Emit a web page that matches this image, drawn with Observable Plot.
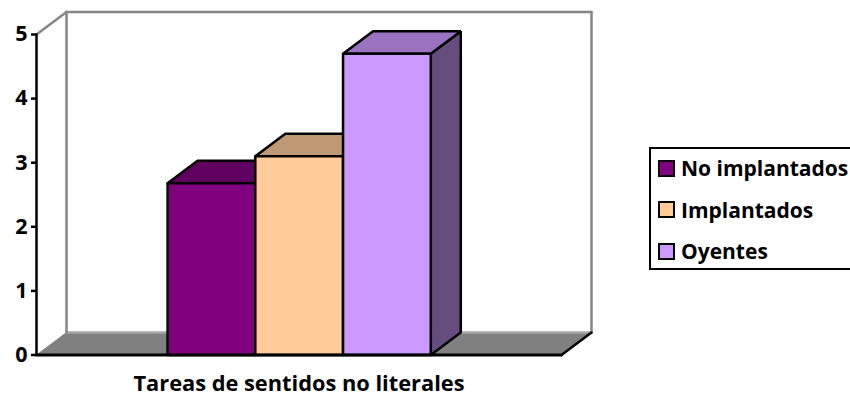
<!DOCTYPE html>
<html>
<head>
<meta charset="utf-8">
<script src="https://cdn.jsdelivr.net/npm/d3@7"></script>
<script src="https://cdn.jsdelivr.net/npm/@observablehq/plot@0.6"></script>
<style>
  html, body { margin: 0; background: #fff; overflow: hidden; }
  #chart { position: relative; width: 850px; height: 396px; overflow: hidden; font-family: "Open Sans", sans-serif; }
  #chart svg { position: absolute; left: 0; top: 0; }
  #legend { position: absolute; left: 649px; top: 147px; width: 215px; height: 119px; border: 2px solid #000; font-weight: 700; font-size: 21px; color: #000; }
  .row { position: absolute; left: 7px; display: flex; align-items: center; height: 24px; white-space: nowrap; }
  .row i { display: block; width: 13px; height: 13px; border: 2px solid #000; margin-right: 6px; }
</style>
</head>
<body>
<div id="chart"></div>
<script>
const categories = ["No implantados", "Implantados", "Oyentes"];
const values = [2.68, 3.1, 4.7];
const frontColors = ["#800080", "#FFCC99", "#CC99FF"];
const topColors = ["#600060", "#BF9973", "#9973BF"];
const sideColors = ["#400040", "#806650", "#664D80"];
const yTicks = [0, 1, 2, 3, 4, 5];
const xTitle = "Tareas de sentidos no literales";

// Horizontal axis counts bar widths; the receding depth is given in data units.
const xDomain = [-1.494, 4.49];
const depthX = 0.342;
const depthY = 0.35;

// Closed polygon drawn as a filled line through the shared scales.
const face = (pts, fill, stroke, strokeWidth = 2.5) =>
  Plot.line([...pts, pts[0]], {
    x: (d) => d[0], y: (d) => d[1], fill, stroke, strokeWidth,
    strokeLinejoin: "miter", curve: "linear"
  });
const seg = (a, b, stroke, strokeWidth) =>
  Plot.line([a, b], {x: (d) => d[0], y: (d) => d[1], stroke, strokeWidth});

const [x0, x1] = xDomain;
const backL = x0 + depthX, backR = x1 + depthX;

const bars = categories.flatMap((c, i) => {
  const v = values[i];
  return [
    face([[i + 1, 0], [i + 1 + depthX, depthY], [i + 1 + depthX, v + depthY], [i + 1, v]], sideColors[i], "#000"),
    face([[i, v], [i + depthX, v + depthY], [i + 1 + depthX, v + depthY], [i + 1, v]], topColors[i], "#000"),
    face([[i, 0], [i, v], [i + 1, v], [i + 1, 0]], frontColors[i], "#000")
  ];
});

const plot = Plot.plot({
  width: 850,
  height: 396,
  marginLeft: 36,
  marginRight: 289,
  marginTop: 34,
  marginBottom: 41.5,
  style: {background: "transparent", overflow: "visible"},
  x: {domain: xDomain, axis: null},
  y: {domain: [0, 5], axis: null},
  marks: [
    // floor and back wall
    face([[x0, 0], [backL, depthY], [backR, depthY], [x1, 0]], "#808080", "none"),
    seg([backL, depthY], [backR, depthY], "#A6A6A6", 2.5),
    seg([x0, 5], [backL, 5 + depthY], "#868686", 2.5),
    seg([backL, depthY], [backL, 5 + depthY], "#868686", 2.5),
    seg([backL, 5 + depthY], [backR, 5 + depthY], "#868686", 2.5),
    seg([backR, 5 + depthY], [backR, depthY], "#868686", 2.5),
    seg([x0, 0], [backL, depthY], "#868686", 1),
    ...bars,
    // axes in front of the floor
    seg([x1, 0], [backR, depthY], "#000", 2.5),
    seg([x0, 0], [x1, 0], "#000", 3),
    seg([x0, 0], [x0, 5], "#000", 2.5),
    Plot.axisY(yTicks, {
      anchor: "left", tickSize: 5, tickPadding: 4, label: null, tickFormat: "d",
      fontSize: 21.5, fontWeight: 700, fontFamily: "Open Sans, sans-serif",
      stroke: "#000", strokeWidth: 2.5, fill: "#000"
    }),
    Plot.text([xTitle], {
      x: () => (x0 + x1) / 2, frameAnchor: "bottom", dy: 36,
      fontSize: 21.8, fontWeight: 700, fontFamily: "Open Sans, sans-serif", fill: "#000"
    })
  ]
});

const host = document.getElementById("chart");
host.append(plot);

// Legend block to the right of the plot
const legend = document.createElement("div");
legend.id = "legend";
categories.forEach((c, i) => {
  const row = document.createElement("div");
  row.className = "row";
  row.style.top = (7 + i * 41.5) + "px";
  const key = document.createElement("i");
  key.style.background = frontColors[i];
  const label = document.createElement("span");
  label.textContent = c;
  row.append(key, label);
  legend.append(row);
});
host.append(legend);
</script>
</body>
</html>
